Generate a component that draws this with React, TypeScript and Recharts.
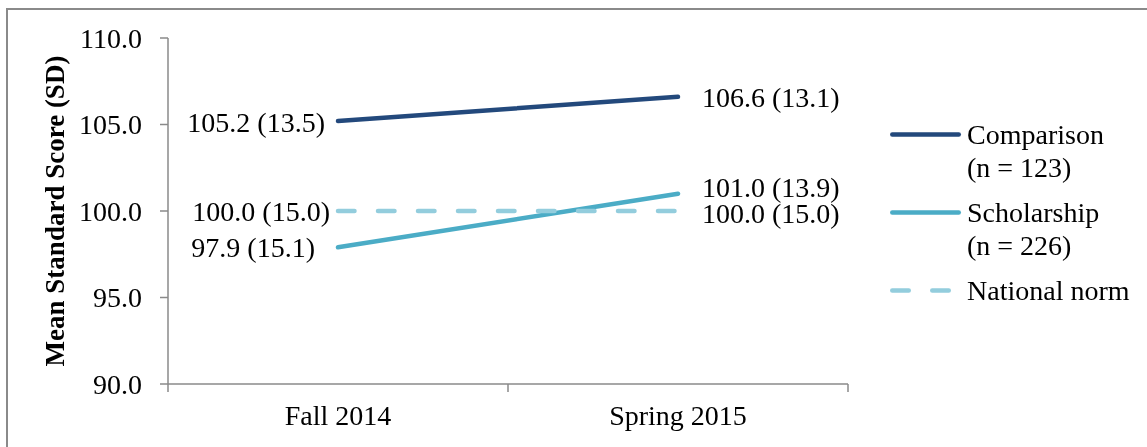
import React from 'react';
import { LineChart, Line, XAxis, YAxis, Legend, LabelList } from 'recharts';

const categories = ['Fall 2014', 'Spring 2015'];
const seriesNames = ['Comparison', 'Scholarship', 'National norm'];
const seriesN = ['(n = 123)', '(n = 226)', ''];
const comparisonMean = [105.2, 106.6];
const comparisonSD = [13.5, 13.1];
const scholarshipMean = [97.9, 101.0];
const scholarshipSD = [15.1, 13.9];
const normMean = [100.0, 100.0];
const normSD = [15.0, 15.0];
const yTicks = [90, 95, 100, 105, 110];

const data = categories.map((c, i) => ({
  x: i + 0.5,
  cat: c,
  comparison: comparisonMean[i],
  scholarship: scholarshipMean[i],
  norm: normMean[i],
}));

const xTicks: number[] = [];
categories.forEach((_, i) => {
  xTicks.push(i, i + 0.5);
});
xTicks.push(categories.length);

const FONT = '"Liberation Serif", "Times New Roman", serif';
const FS = 28;
const AXIS = '#8a8a8a';

const COLORS = ['#23497c', '#4bacc6', '#93cddd'];
const DASH = [undefined, undefined, '16.5 23.5'];
const SW = 4.5;

const makeLabel = (sd: number[], leftGap: number, dys: number[]) => (props: any) => {
  const { x, y, value, index } = props;
  const left = index === 0;
  return (
    <text
      x={left ? x - leftGap : x + 24}
      y={y + dys[index]}
      dy="0.34em"
      textAnchor={left ? 'end' : 'start'}
      fontFamily={FONT}
      fontSize={FS}
      fill="#000"
    >
      {`${Number(value).toFixed(1)} (${sd[index].toFixed(1)})`}
    </text>
  );
};

const XTick = (props: any) => {
  const { x, y, payload } = props;
  const v = payload.value as number;
  if (Number.isInteger(v)) {
    return <line x1={x} x2={x} y1={y} y2={y + 8} stroke={AXIS} strokeWidth={1.5} />;
  }
  return (
    <text x={x} y={y + 41} textAnchor="middle" fontFamily={FONT} fontSize={FS} fill="#000">
      {categories[Math.floor(v)]}
    </text>
  );
};

const YTitle = (props: any) => {
  const { viewBox } = props;
  const cy = viewBox.y + viewBox.height / 2;
  const cx = viewBox.x + 56;
  return (
    <text
      x={cx}
      y={cy}
      transform={`rotate(-90 ${cx} ${cy})`}
      textAnchor="middle"
      fontFamily={FONT}
      fontSize={27}
      fontWeight="bold"
      fill="#000"
    >
      Mean Standard Score (SD)
    </text>
  );
};

const LegendContent = (props: any) => {
  const payload = [...(props.payload || [])].sort(
    (a: any, b: any) => seriesNames.indexOf(a.value) - seriesNames.indexOf(b.value)
  );
  return (
    <div style={{ fontFamily: FONT, fontSize: FS, lineHeight: '33px', color: '#000' }}>
      {payload.map((entry: any, i: number) => {
        const idx = seriesNames.indexOf(entry.value);
        const lines = [entry.value, seriesN[idx]].filter((s) => s);
        return (
          <div key={i} style={{ display: 'flex', alignItems: 'flex-start', marginBottom: 12 }}>
            <svg width={77} height={33} style={{ display: 'block', flex: 'none' }}>
              <line
                x1={2.25}
                x2={68.75}
                y1={16.5}
                y2={16.5}
                stroke={COLORS[idx]}
                strokeWidth={SW}
                strokeLinecap="round"
                strokeDasharray={DASH[idx]}
              />
            </svg>
            <div style={{ whiteSpace: 'nowrap' }}>
              {lines.map((l, j) => (
                <div key={j}>{l}</div>
              ))}
            </div>
          </div>
        );
      })}
    </div>
  );
};

export default function App() {
  return (
    <div style={{ position: 'relative', width: 1139, height: 439 }}>
      <div
        style={{
          position: 'fixed',
          left: 6,
          top: 8,
          width: 1200,
          height: 2,
          background: AXIS,
        }}
      />
      <div
        style={{
          position: 'fixed',
          left: 6,
          top: 8,
          width: 2,
          height: 500,
          background: AXIS,
        }}
      />
      <LineChart width={1139} height={439} data={data} margin={{ top: 30, right: 299, bottom: 0, left: 0 }}>
        <XAxis
          dataKey="x"
          type="number"
          domain={[0, categories.length]}
          ticks={xTicks}
          interval={0}
          height={63}
          tickSize={0}
          tickMargin={0}
          tickLine={false}
          tick={<XTick />}
          axisLine={{ stroke: AXIS, strokeWidth: 1.5 }}
        />
        <YAxis
          type="number"
          domain={[90, 110]}
          ticks={yTicks}
          interval={0}
          width={160}
          tickSize={8}
          tickMargin={18}
          tickFormatter={(v: number) => v.toFixed(1)}
          tick={{ fontFamily: FONT, fontSize: FS, fill: '#000' }}
          tickLine={{ stroke: AXIS, strokeWidth: 1.5 }}
          axisLine={{ stroke: AXIS, strokeWidth: 1.5 }}
          label={<YTitle />}
        />
        <Legend
          layout="vertical"
          align="center"
          verticalAlign="middle"
          itemSorter={(item: any) => seriesNames.indexOf(item.value)}
          content={<LegendContent />}
          wrapperStyle={{ left: 882, top: 110, width: 257, height: 'auto' }}
        />
        <Line
          name={seriesNames[0]}
          dataKey="comparison"
          stroke={COLORS[0]}
          strokeWidth={SW}
          strokeLinecap="round"
          dot={false}
          activeDot={false}
          isAnimationActive={false}
        >
          <LabelList dataKey="comparison" content={makeLabel(comparisonSD, 13, [1, 1])} />
        </Line>
        <Line
          name={seriesNames[1]}
          dataKey="scholarship"
          stroke={COLORS[1]}
          strokeWidth={SW}
          strokeLinecap="round"
          dot={false}
          activeDot={false}
          isAnimationActive={false}
        >
          <LabelList dataKey="scholarship" content={makeLabel(scholarshipSD, 23, [0.5, -6])} />
        </Line>
        <Line
          name={seriesNames[2]}
          dataKey="norm"
          stroke={COLORS[2]}
          strokeWidth={SW}
          strokeLinecap="round"
          strokeDasharray={DASH[2]}
          dot={false}
          activeDot={false}
          isAnimationActive={false}
        >
          <LabelList dataKey="norm" content={makeLabel(normSD, 8, [0, 2])} />
        </Line>
      </LineChart>
    </div>
  );
}
